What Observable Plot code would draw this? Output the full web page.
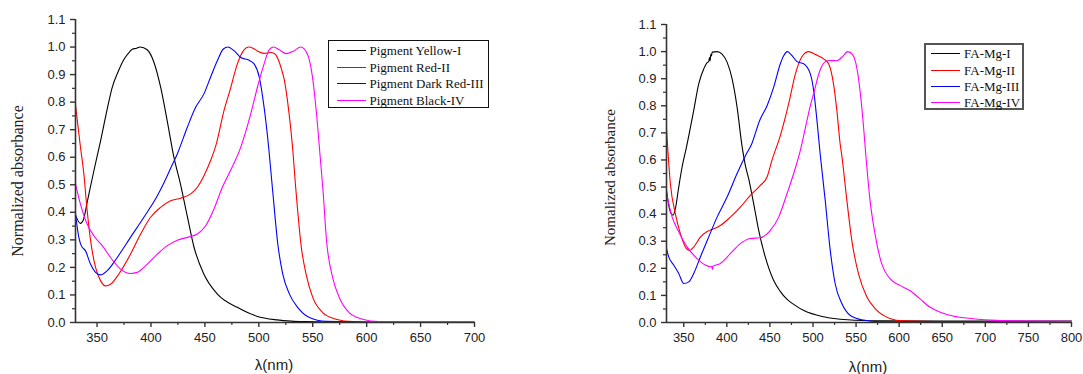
<!DOCTYPE html>
<html>
<head>
<meta charset="utf-8">
<script src="https://cdn.jsdelivr.net/npm/d3@7"></script>
<script src="https://cdn.jsdelivr.net/npm/@observablehq/plot@0.6"></script>
<style>
  body { margin: 0; background: #fff; }
  #chart { position: relative; width: 1083px; height: 374px; overflow: hidden; background: #fff; }
  .panel { position: absolute; top: 0; }
  .legend {
    position: absolute; box-sizing: border-box; background: #fff;
    font-family: "Liberation Serif", "Times New Roman", serif; color: #111;
  }
  .legend .row { position: absolute; left: 0; height: 16px; line-height: 16px; white-space: nowrap; }
  .legend .swatch { position: absolute; top: 7px; height: 0; width: 29px; }
  .legend .label { position: absolute; top: 0; }
</style>
</head>
<body>
<div id="chart"></div>
<script>
// ---- Left panel: pigments ----
const pigmentNames = ["Pigment Yellow-I", "Pigment Red-II", "Pigment Dark Red-III", "Pigment Black-IV"];
const seriesColors = ["#000000", "#ff0000", "#0000ff", "#ff00ff"];

const yellowI_nm  = [330, 334.5, 337.5, 341, 347, 353, 359.4, 364, 370, 375, 380, 383, 386, 390, 396.5, 402.7, 408.9, 415, 421, 427.5, 433.7, 439.8, 449, 461.6, 480, 498, 517, 530, 544, 560, 600, 650, 700];
const yellowI_abs = [0.39, 0.36, 0.375, 0.44, 0.55, 0.655, 0.775, 0.853, 0.915, 0.956, 0.982, 0.993, 0.995, 1.0, 0.99, 0.945, 0.855, 0.733, 0.605, 0.5, 0.385, 0.275, 0.176, 0.103, 0.055, 0.023, 0.0095, 0.005, 0.003, 0.002, 0.001, 0.001, 0.001];

const redII_nm  = [330, 334.5, 338, 340, 344, 348.6, 353.2, 357.9, 362.5, 370.2, 381, 390.4, 399.6, 408.9, 418.2, 427.5, 436.8, 443, 449, 455.3, 460, 467.7, 473.9, 480.1, 486.3, 490.5, 495, 499, 504.8, 511, 515, 518, 521, 523.4, 528, 531.2, 534.4, 539.5, 543.8, 550, 559.2, 571.5, 587, 620, 700];
const redII_abs = [0.79, 0.64, 0.53, 0.44, 0.297, 0.2, 0.152, 0.133, 0.139, 0.176, 0.248, 0.321, 0.382, 0.418, 0.442, 0.451, 0.467, 0.491, 0.532, 0.588, 0.64, 0.769, 0.852, 0.939, 0.99, 1.0, 0.995, 0.985, 0.977, 0.98, 0.975, 0.955, 0.92, 0.885, 0.76, 0.64, 0.48, 0.27, 0.176, 0.091, 0.036, 0.012, 0.003, 0.001, 0.001];

const darkRedIII_nm  = [330, 333.1, 335.3, 339.3, 343.9, 348.6, 353.2, 359.4, 368.7, 381, 393.4, 405.9, 413.6, 418.2, 424.4, 433.7, 441.4, 449.1, 455.3, 461.6, 467.1, 471.4, 477, 483.3, 491, 495.6, 500.3, 504.9, 508.5, 512.8, 517.6, 522.2, 528.4, 536, 546.9, 562.3, 600, 700];
const darkRedIII_abs = [0.394, 0.309, 0.279, 0.26, 0.212, 0.182, 0.173, 0.188, 0.236, 0.309, 0.382, 0.46, 0.52, 0.56, 0.612, 0.709, 0.781, 0.83, 0.891, 0.951, 0.993, 1.0, 0.987, 0.962, 0.952, 0.939, 0.893, 0.781, 0.66, 0.48, 0.285, 0.176, 0.103, 0.055, 0.018, 0.004, 0.001, 0.001];

const blackIV_nm  = [330, 334.6, 340.9, 347, 354.8, 362.5, 371.8, 381, 387.3, 396.6, 405.9, 415.1, 424.4, 433.7, 443, 450.7, 458.4, 466.2, 473.5, 483.2, 492.5, 498.7, 504.9, 509.5, 513.6, 519, 525.5, 532, 538.9, 545, 549.8, 553.8, 556.5, 559.5, 562.8, 568.4, 574.6, 583.8, 596.1, 611.5, 650, 700];
const blackIV_abs = [0.503, 0.43, 0.357, 0.315, 0.279, 0.236, 0.194, 0.178, 0.182, 0.212, 0.248, 0.279, 0.299, 0.309, 0.321, 0.351, 0.412, 0.491, 0.55, 0.636, 0.757, 0.854, 0.939, 0.99, 1.0, 0.99, 0.976, 0.985, 1.0, 0.975, 0.89, 0.745, 0.62, 0.48, 0.297, 0.164, 0.091, 0.036, 0.012, 0.003, 0.001, 0.001];

// ---- Right panel: FA-Mg complexes ----
const faMgNames = ["FA-Mg-I", "FA-Mg-II", "FA-Mg-III", "FA-Mg-IV"];

const faMgI_nm  = [330, 332.6, 334.5, 337.6, 340.3, 344.2, 348.1, 353, 361.6, 367.4, 373.2, 377.8, 379, 379.8, 380.6, 381.4, 382.2, 383, 388.7, 394.5, 400.3, 406.1, 411.9, 417.7, 421.5, 425.4, 431.2, 437, 444.7, 454.4, 462, 470, 478, 490, 512.3, 540, 578, 650, 800];
const faMgI_abs = [0.488, 0.433, 0.408, 0.396, 0.42, 0.5, 0.574, 0.645, 0.783, 0.881, 0.936, 0.961, 0.962, 0.978, 0.966, 0.99, 0.984, 0.998, 1.0, 0.991, 0.961, 0.9, 0.795, 0.65, 0.58, 0.53, 0.438, 0.34, 0.241, 0.155, 0.115, 0.085, 0.066, 0.043, 0.021, 0.01, 0.006, 0.005, 0.005];

const faMgII_nm  = [330, 334.5, 340.3, 346.1, 351.9, 356.9, 361.6, 369.3, 377.1, 384.8, 392.5, 404.1, 415.7, 427.3, 438.9, 446.7, 452.5, 462.1, 471.8, 479.6, 487.3, 495, 503, 512.3, 518.1, 523.8, 527.7, 531.5, 533.5, 539.3, 545, 552.7, 562.4, 573.9, 589.3, 604.6, 650, 800];
const faMgII_abs = [0.715, 0.512, 0.401, 0.328, 0.279, 0.266, 0.279, 0.315, 0.336, 0.346, 0.358, 0.389, 0.426, 0.469, 0.506, 0.537, 0.6, 0.69, 0.808, 0.918, 0.982, 1.0, 0.989, 0.973, 0.955, 0.881, 0.783, 0.66, 0.615, 0.451, 0.304, 0.181, 0.095, 0.046, 0.015, 0.006, 0.003, 0.002];

const faMgIII_nm  = [330, 332.6, 338.4, 344.2, 350, 355.8, 361.6, 369.3, 379, 388.7, 400.3, 411.9, 421.5, 429, 438, 446.7, 454.4, 462.1, 466, 470.3, 475.7, 481.5, 489.2, 496.9, 500.8, 504.6, 508.4, 514.2, 520, 525.7, 533.5, 543, 558.4, 577.6, 650, 800];
const faMgIII_abs = [0.273, 0.242, 0.212, 0.181, 0.144, 0.15, 0.181, 0.242, 0.316, 0.389, 0.463, 0.55, 0.615, 0.66, 0.745, 0.8, 0.869, 0.955, 0.985, 1.0, 0.985, 0.963, 0.955, 0.918, 0.856, 0.746, 0.62, 0.451, 0.267, 0.144, 0.07, 0.027, 0.009, 0.003, 0.002, 0.002];

const faMgIV_nm  = [330, 336.5, 344.2, 353.9, 365.5, 375.1, 381.7, 382.6, 383.2, 383.8, 392.5, 404.1, 415.7, 427.3, 438.9, 450.5, 460.2, 469.9, 477.6, 485.3, 489.2, 496.9, 502, 506, 510, 514, 520, 527.7, 533.5, 540.4, 546.2, 550.8, 554.6, 558.4, 561, 566.2, 571.9, 579.7, 589.3, 600.8, 612.4, 623.9, 635.5, 647, 662.4, 685.5, 712.5, 760, 800];
const faMgIV_abs = [0.476, 0.39, 0.335, 0.279, 0.236, 0.212, 0.205, 0.207, 0.195, 0.207, 0.218, 0.254, 0.291, 0.31, 0.313, 0.34, 0.389, 0.476, 0.55, 0.635, 0.69, 0.8, 0.86, 0.91, 0.945, 0.962, 0.967, 0.966, 0.979, 1.0, 0.988, 0.941, 0.856, 0.733, 0.63, 0.451, 0.328, 0.217, 0.162, 0.137, 0.118, 0.088, 0.057, 0.039, 0.024, 0.014, 0.008, 0.005, 0.004];

// Axis ticks
const yMajor = d3.range(0, 11 + 1).map(i => i / 10);
const yMinor = d3.range(0, 11).map(i => i / 10 + 0.05);
const xMajorLeft = d3.range(350, 701, 50);
const xMinorLeft = d3.range(375, 700, 50);
const xMajorRight = d3.range(350, 801, 50);
const xMinorRight = d3.range(375, 800, 50);

const zip = (nm, abs) => nm.map((x, i) => ({nm: x, abs: abs[i]}));

const sansFont = '"Liberation Sans", Arial, sans-serif';
const serifFont = '"Liberation Serif", "Times New Roman", serif';
const axisColor = "#333";

function spectrumPanel({series, xDomain, xMajor, xMinor, width, margins, yTitle, yTitleFontSize, yTitleOffset, xTitleOffset}) {
  const [mt, mr, mb, ml] = margins;
  return Plot.plot({
    width, height: 374,
    marginTop: mt, marginRight: mr, marginBottom: mb, marginLeft: ml,
    x: {domain: xDomain},
    y: {domain: [0, 1.1]},
    style: {fontFamily: sansFont, fontSize: "13px", color: "#222", background: "transparent", overflow: "visible"},
    marks: [
      ...series.map(s => Plot.line(s.data, {x: "nm", y: "abs", stroke: s.color, strokeWidth: 1.1, curve: "monotone-x"})),
      Plot.ruleX([xDomain[0]], {stroke: axisColor, strokeWidth: 1.6}),
      Plot.ruleY([0], {stroke: axisColor, strokeWidth: 1.6}),
      Plot.axisX(xMajor, {tickSize: 5, tickPadding: 5, label: null, tickFormat: d => String(d), stroke: axisColor, strokeWidth: 1.4}),
      Plot.axisX(xMinor, {tickSize: 3, text: null, label: null, stroke: axisColor, strokeWidth: 1.2}),
      Plot.axisY(yMajor, {tickSize: 5, tickPadding: 5, label: null, tickFormat: d3.format(".1f"), stroke: axisColor, strokeWidth: 1.4}),
      Plot.axisY(yMinor, {tickSize: 3, text: null, label: null, stroke: axisColor, strokeWidth: 1.2}),
      Plot.text([yTitle], {text: d => d, frameAnchor: "left", textAnchor: "middle", lineAnchor: "middle", rotate: -90,
        dx: yTitleOffset[0], dy: yTitleOffset[1], fontFamily: serifFont, fontSize: yTitleFontSize, fill: "#222"}),
      Plot.text(["λ(nm)"], {text: d => d, frameAnchor: "bottom", textAnchor: "middle", lineAnchor: "middle",
        dx: xTitleOffset[0], dy: xTitleOffset[1], fontFamily: sansFont, fontSize: 15, fill: "#222"})
    ]
  });
}

function legendBox({names, colors, left, top, width, height, border, fontSize, rowTops, swatchLeft, textLeft}) {
  const box = document.createElement("div");
  box.className = "legend";
  Object.assign(box.style, {left: left + "px", top: top + "px", width: width + "px", height: height + "px", border, fontSize: fontSize + "px"});
  names.forEach((name, i) => {
    const row = document.createElement("div");
    row.className = "row";
    row.style.top = (rowTops[i] - 8) + "px";
    const sw = document.createElement("span");
    sw.className = "swatch";
    Object.assign(sw.style, {left: swatchLeft + "px", borderTop: `1.6px solid ${colors[i]}`});
    const lb = document.createElement("span");
    lb.className = "label";
    lb.style.left = textLeft + "px";
    lb.textContent = name;
    row.append(sw, lb);
    box.append(row);
  });
  return box;
}

const chart = document.getElementById("chart");

const leftSeries = [
  zip(yellowI_nm, yellowI_abs), zip(redII_nm, redII_abs),
  zip(darkRedIII_nm, darkRedIII_abs), zip(blackIV_nm, blackIV_abs)
].map((data, i) => ({data, color: seriesColors[i]}));

const rightSeries = [
  zip(faMgI_nm, faMgI_abs), zip(faMgII_nm, faMgII_abs),
  zip(faMgIII_nm, faMgIII_abs), zip(faMgIV_nm, faMgIV_abs)
].map((data, i) => ({data, color: seriesColors[i]}));

const leftPlot = spectrumPanel({
  series: leftSeries, xDomain: [330, 700], xMajor: xMajorLeft, xMinor: xMinorLeft,
  width: 540, margins: [19, 66, 52, 75],
  yTitle: "Normalized absorbance", yTitleFontSize: 16, yTitleOffset: [-58, 10], xTitleOffset: [-1, 43]
});
leftPlot.classList.add("panel");
leftPlot.style.left = "0px";

const rightPlot = spectrumPanel({
  series: rightSeries, xDomain: [330, 800], xMajor: xMajorRight, xMinor: xMinorRight,
  width: 540, margins: [24, 12, 52, 123],
  yTitle: "Nomalized absorbance", yTitleFontSize: 15, yTitleOffset: [-56, 4], xTitleOffset: [-1, 44.5]
});
rightPlot.classList.add("panel");
rightPlot.style.left = "543px";

chart.append(leftPlot, rightPlot);

chart.append(legendBox({
  names: pigmentNames, colors: seriesColors,
  left: 327.5, top: 39.5, width: 161, height: 68, border: "1.5px solid #111", fontSize: 13,
  rowTops: [10.5, 27.2, 43.8, 60.5], swatchLeft: 8, textLeft: 41
}));
chart.append(legendBox({
  names: faMgNames, colors: seriesColors,
  left: 924, top: 42.5, width: 100, height: 67, border: "2px solid #555", fontSize: 13,
  rowTops: [9.8, 26.2, 42.5, 58.5], swatchLeft: 5, textLeft: 38
}));
</script>
</body>
</html>
